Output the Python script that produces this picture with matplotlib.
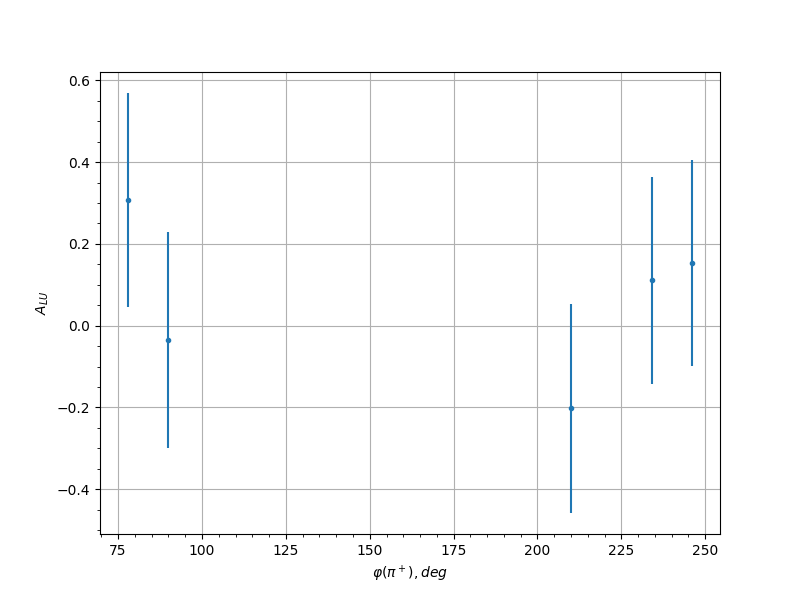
import matplotlib
matplotlib.use("Agg")
import matplotlib.pyplot as plt

phi = [78, 90, 210, 234, 246]
alu = [0.307, -0.035, -0.202, 0.111, 0.153]
alu_err = [0.262, 0.264, 0.256, 0.253, 0.252]

fig, ax = plt.subplots(figsize=(8, 6), dpi=100)
ax.errorbar(phi, alu, yerr=alu_err, fmt='.')
ax.set_xlabel(r'$\varphi(\pi^+), deg$')
ax.set_ylabel(r'$A_{LU}$')
ax.minorticks_on()
ax.grid(True, which='major')
fig.savefig('out.png')
